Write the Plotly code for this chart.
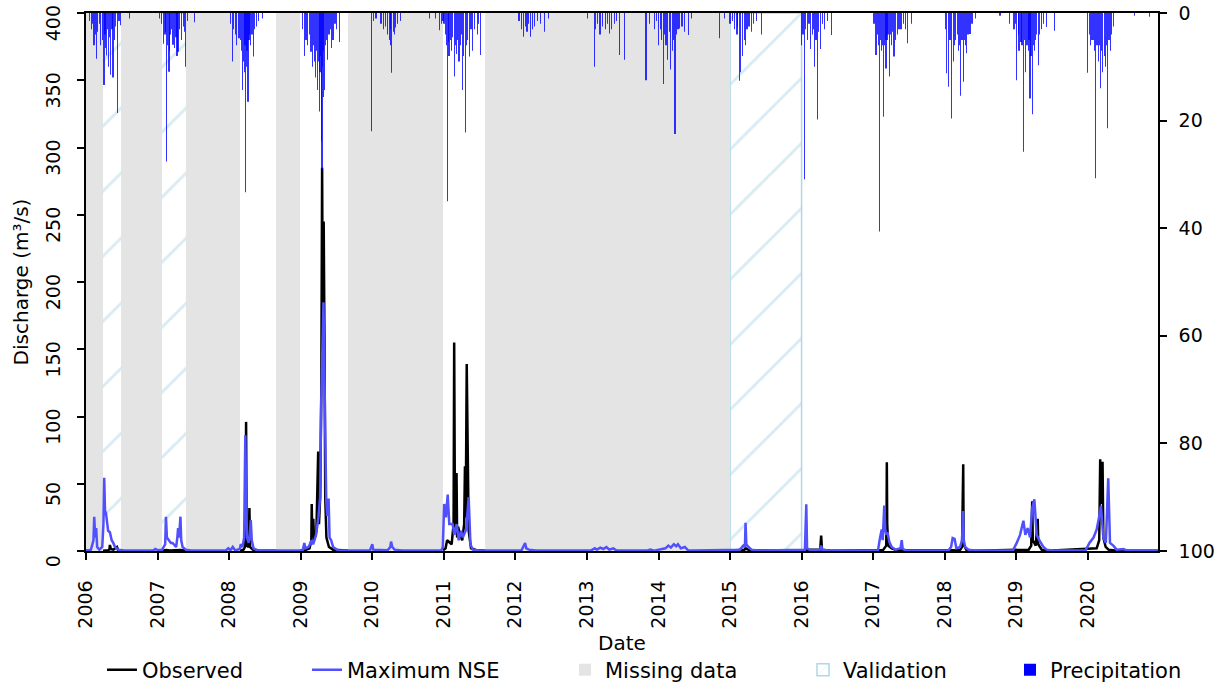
import plotly.graph_objects as go
import pandas as pd

# ---------------- data ----------------
missing_start = ["2006-01-01", "2006-06-29", "2007-05-26", "2008-08-28", "2009-08-30", "2011-07-31"]
missing_end = ["2006-03-29", "2007-01-24", "2008-02-26", "2008-12-28", "2010-12-28", "2015-01-01"]

validation_start = ["2006-01-01", "2015-01-01"]
validation_end = ["2008-01-01", "2016-01-01"]

obs_dates = [
    "2006-03-29", "2006-04-25", "2006-05-01", "2006-05-03", "2006-05-08", "2006-05-20", "2006-06-08", "2006-06-14", "2006-06-28", None,
    "2007-01-24", "2007-02-15", "2007-03-05", "2007-04-28", "2007-05-26", None,
    "2008-02-26", "2008-03-15", "2008-03-22", "2008-03-26", "2008-03-28", "2008-03-31", "2008-04-10", "2008-04-14", "2008-04-17",
    "2008-05-01", "2008-06-01", "2008-08-28", None,
    "2008-12-28", "2009-01-20", "2009-02-15", "2009-02-24", "2009-02-26", "2009-03-01", "2009-03-06", "2009-03-10", "2009-03-22",
    "2009-03-31", "2009-04-04", "2009-04-10", "2009-04-16", "2009-04-20", "2009-04-24", "2009-04-28", "2009-05-02", "2009-05-06",
    "2009-05-12", "2009-05-25", "2009-06-15", "2009-08-30", None,
    "2010-12-28", "2011-01-10", "2011-01-18", "2011-02-10", "2011-02-20", "2011-02-23", "2011-02-27", "2011-03-04", "2011-03-07",
    "2011-03-10", "2011-03-15", "2011-03-25", "2011-04-05", "2011-04-15", "2011-04-19", "2011-04-23", "2011-04-28", "2011-05-02",
    "2011-05-08", "2011-05-20", "2011-06-20", "2011-07-30", None,
    "2015-01-01", "2015-03-15", "2015-03-22", "2015-04-10", "2015-12-31", "2016-01-25", "2016-04-05", "2016-04-10", "2016-04-14",
    "2016-06-01", "2017-02-20", "2017-03-01", "2017-03-08", "2017-03-10", "2017-03-11", "2017-03-13", "2017-03-18", "2017-04-05",
    "2017-05-01", "2018-03-20", "2018-03-30", "2018-04-05", "2018-04-07", "2018-04-20", "2018-06-01", "2019-03-05", "2019-03-18",
    "2019-03-23", "2019-03-26", "2019-04-10", "2019-04-20", "2019-04-23", "2019-05-10", "2019-06-10", "2020-02-15", "2020-02-28",
    "2020-03-04", "2020-03-10", "2020-03-16", "2020-03-20", "2020-04-01", "2020-04-15", "2020-06-01", "2020-12-24",
]
obs_q = [
    0.2, 0.5, 1.5, 4.5, 1.5, 1.0, 3.0, 0.8, 0.3, None,
    0.2, 0.8, 0.4, 0.8, 0.3, None,
    0.3, 1.0, 3, 20, 96, 4, 3, 32, 3,
    1, 0.3, 0.2, None,
    0.2, 0.5, 2, 8, 35, 10, 24, 8, 15,
    74, 20, 40, 120, 285, 150, 245, 160, 40,
    10, 3, 1, 0.3, None,
    0.5, 2, 8, 5, 20, 155, 20, 15, 58,
    10, 18, 12, 8, 20, 63, 25, 139, 60,
    15, 2, 0.5, 0.3, None,
    0.3, 1, 2, 0.5, 0.2, 1, 1, 11.4, 1,
    0.2, 0.8, 3, 4, 30, 66, 20, 4, 2,
    0.5, 0.8, 3, 64.5, 5, 1, 0.2, 1, 4,
    37, 8, 4, 24, 5, 1, 0.2, 2, 8,
    68.2, 35, 66.4, 10, 3, 1, 0.2, 0.2,
]

sim_dates = [
    "2006-01-01", "2006-01-25", "2006-02-08", "2006-02-12", "2006-02-17", "2006-02-22", "2006-02-27", "2006-03-10", "2006-03-25",
    "2006-03-31", "2006-04-04", "2006-04-08", "2006-04-13", "2006-04-18", "2006-04-24", "2006-05-03", "2006-05-12", "2006-05-20",
    "2006-05-29", "2006-06-15", "2006-07-15", "2006-12-10", "2006-12-20", "2007-01-05", "2007-01-25", "2007-02-09", "2007-02-13",
    "2007-02-18", "2007-02-26", "2007-03-10", "2007-03-19", "2007-04-06", "2007-04-12", "2007-04-16", "2007-04-21", "2007-04-28",
    "2007-05-02", "2007-05-09", "2007-05-25", "2007-06-20", "2007-12-15", "2007-12-28", "2008-01-08", "2008-01-20", "2008-02-01",
    "2008-02-25", "2008-03-01", "2008-03-10", "2008-03-18", "2008-03-24", "2008-03-28", "2008-04-02", "2008-04-10", "2008-04-16",
    "2008-04-21", "2008-04-26", "2008-05-05", "2008-05-28", "2008-12-20", "2009-01-12", "2009-01-19", "2009-01-25", "2009-02-10",
    "2009-02-26", "2009-03-05", "2009-03-20", "2009-04-01", "2009-04-10", "2009-04-15", "2009-04-20", "2009-04-27", "2009-05-01",
    "2009-05-06", "2009-05-11", "2009-05-16", "2009-05-23", "2009-05-28", "2009-06-05", "2009-06-15", "2009-07-10", "2009-12-20",
    "2010-01-01", "2010-01-06", "2010-03-20", "2010-04-03", "2010-04-07", "2010-04-13", "2010-04-25", "2010-06-01", "2010-12-20",
    "2010-12-27", "2011-01-03", "2011-01-12", "2011-01-21", "2011-01-29", "2011-02-15", "2011-02-24", "2011-03-08", "2011-03-18",
    "2011-03-30", "2011-04-08", "2011-04-25", "2011-05-08", "2011-05-17", "2011-05-29", "2011-07-01", "2012-02-01", "2012-02-15",
    "2012-02-20", "2012-02-26", "2012-03-10", "2012-04-15", "2013-01-20", "2013-02-10", "2013-02-20", "2013-03-10", "2013-03-25",
    "2013-04-10", "2013-04-25", "2013-05-15", "2013-06-01", "2013-11-01", "2013-11-20", "2013-12-10", "2014-02-05", "2014-02-20",
    "2014-03-05", "2014-03-20", "2014-04-01", "2014-04-10", "2014-04-25", "2014-05-15", "2014-06-01", "2014-07-01", "2015-02-20",
    "2015-03-10", "2015-03-18", "2015-03-21", "2015-03-25", "2015-04-05", "2015-04-20", "2015-05-20", "2016-01-18", "2016-01-25",
    "2016-01-29", "2016-02-15", "2016-04-04", "2016-04-10", "2016-04-15", "2016-05-15", "2017-01-25", "2017-02-04", "2017-02-13",
    "2017-02-18", "2017-02-26", "2017-03-03", "2017-03-08", "2017-03-14", "2017-03-24", "2017-04-05", "2017-04-25", "2017-05-20",
    "2017-05-26", "2017-05-31", "2017-06-20", "2018-01-20", "2018-02-02", "2018-02-10", "2018-02-20", "2018-03-01", "2018-03-20",
    "2018-03-30", "2018-04-04", "2018-04-08", "2018-04-15", "2018-05-01", "2018-06-01", "2018-12-15", "2018-12-25", "2019-01-03",
    "2019-01-20", "2019-02-06", "2019-02-16", "2019-02-28", "2019-03-12", "2019-03-23", "2019-04-03", "2019-04-15", "2019-04-28",
    "2019-05-19", "2019-06-05", "2019-07-01", "2019-12-20", "2019-12-31", "2020-01-09", "2020-01-30", "2020-02-15", "2020-02-27",
    "2020-03-08", "2020-03-20", "2020-04-02", "2020-04-14", "2020-04-23", "2020-05-10", "2020-05-27", "2020-06-30", "2020-07-20",
    "2020-12-24",
]
sim_q = [
    0.5, 0.5, 8, 25.5, 10, 17, 3, 1, 3,
    20, 54.5, 30, 28, 21, 15, 14, 8, 6,
    3, 1, 0.3, 0.3, 1.5, 0.5, 1, 5, 25.5,
    10, 8, 6, 6, 3, 10, 17, 10, 25.5,
    8, 3, 1, 0.3, 0.3, 2, 0.5, 3, 0.5,
    1.5, 5, 3, 10, 86, 40, 10, 6, 12,
    23, 8, 2, 0.3, 0.3, 1, 6, 2, 3,
    8, 5, 12, 25, 40, 107, 150, 185, 140,
    88, 38, 26, 39, 10, 8, 3, 0.5, 0.3,
    5, 1, 0.5, 3, 7, 3, 1, 0.3, 0.5,
    3, 35, 25, 42, 20, 20, 12, 20, 8,
    15, 10, 16, 40, 5, 1, 0.3, 0.3, 4,
    6, 2, 1, 0.3, 0.3, 2, 1, 2.5, 1.5,
    3, 1, 2, 0.3, 0.3, 1, 0.3, 2, 4,
    2.5, 5, 3.5, 5, 2, 3, 0.5, 0.3, 1,
    4, 3, 21, 5, 3, 1, 0.3, 1, 34.7,
    2, 0.5, 1, 4, 1, 0.3, 0.5, 9.6, 16,
    8, 33.7, 16, 12, 14, 6.7, 3, 1, 2,
    8, 1.5, 0.3, 0.5, 3, 9.6, 9, 2, 3,
    8, 29.7, 8, 3, 1, 0.3, 0.5, 3, 6,
    12, 22.5, 12, 17, 10, 32, 38.4, 12, 8,
    3, 1, 0.3, 0.3, 3, 6, 10, 16, 25,
    33.4, 10, 6, 54, 6, 4, 1, 1.5, 0.3,
    0.3,
]

precip_dates = [
    # 2006
    "2006-01-20", "2006-01-28", "2006-02-05", "2006-02-11", "2006-02-17", "2006-02-24", "2006-03-02", "2006-03-10", "2006-03-18",
    "2006-03-25", "2006-04-03", "2006-04-08", "2006-04-12", "2006-04-16", "2006-04-20", "2006-04-26", "2006-05-01", "2006-05-08",
    "2006-05-14", "2006-05-19", "2006-05-25", "2006-06-02", "2006-06-11", "2006-06-18", "2006-06-24", "2006-08-13",
    # 2007
    "2007-01-10", "2007-01-20", "2007-02-01", "2007-02-08", "2007-02-12", "2007-02-17", "2007-02-22", "2007-03-01", "2007-03-05",
    "2007-03-10", "2007-03-15", "2007-03-21", "2007-03-28", "2007-04-05", "2007-04-10", "2007-04-16", "2007-04-24", "2007-05-03",
    "2007-05-12", "2007-05-18", "2007-05-25", "2007-06-05", "2007-07-07",
    # 2008
    "2008-01-08", "2008-01-18", "2008-01-25", "2008-02-02", "2008-02-10", "2008-02-21", "2008-02-28", "2008-03-04", "2008-03-09",
    "2008-03-13", "2008-03-18", "2008-03-22", "2008-03-26", "2008-03-30", "2008-04-02", "2008-04-07", "2008-04-12", "2008-04-16",
    "2008-04-21", "2008-04-27", "2008-05-05", "2008-05-12", "2008-05-20", "2008-05-30", "2008-06-20",
    # 2009
    "2009-01-10", "2009-01-19", "2009-01-28", "2009-02-05", "2009-02-14", "2009-02-22", "2009-03-03", "2009-03-08", "2009-03-12",
    "2009-03-19", "2009-03-24", "2009-03-28", "2009-04-01", "2009-04-05", "2009-04-09", "2009-04-12", "2009-04-15", "2009-04-19",
    "2009-04-22", "2009-04-26", "2009-04-29", "2009-05-04", "2009-05-08", "2009-05-12", "2009-05-18", "2009-05-25", "2009-06-03",
    "2009-06-08", "2009-06-15", "2009-06-25", "2009-07-01", "2009-07-16", "2009-12-30",
    # 2010
    "2010-01-08", "2010-01-20", "2010-02-15", "2010-03-01", "2010-03-10", "2010-03-20", "2010-03-28", "2010-04-03", "2010-04-06",
    "2010-04-11", "2010-04-18", "2010-04-25", "2010-05-01", "2010-05-10", "2010-05-27", "2010-10-22", "2010-11-20", "2010-12-09",
    "2010-12-20", "2010-12-28",
    # 2011
    "2011-01-02", "2011-01-10", "2011-01-14", "2011-01-18", "2011-01-23", "2011-01-28", "2011-02-03", "2011-02-10", "2011-02-16",
    "2011-02-23", "2011-03-02", "2011-03-07", "2011-03-14", "2011-03-20", "2011-03-26", "2011-04-01", "2011-04-05", "2011-04-12",
    "2011-04-20", "2011-04-26", "2011-05-02", "2011-05-14", "2011-05-20", "2011-05-28", "2011-06-08", "2011-06-20", "2011-06-28",
    "2011-07-06",
    # 2012
    "2012-01-20", "2012-02-03", "2012-02-10", "2012-02-20", "2012-03-01", "2012-03-10", "2012-03-19", "2012-03-28", "2012-04-10",
    "2012-04-25", "2012-05-10", "2012-05-27", "2012-06-20",
    # 2013
    "2013-01-05", "2013-02-07", "2013-02-15", "2013-02-25", "2013-03-08", "2013-03-20", "2013-04-05", "2013-04-15", "2013-04-25",
    "2013-05-05", "2013-05-20", "2013-06-01", "2013-06-15", "2013-07-10", "2013-10-29", "2013-11-15", "2013-12-10", "2013-12-20",
    # 2014
    "2014-01-01", "2014-01-10", "2014-01-18", "2014-01-25", "2014-02-01", "2014-02-08", "2014-02-16", "2014-02-24", "2014-03-04",
    "2014-03-12", "2014-03-18", "2014-03-26", "2014-04-02", "2014-04-10", "2014-04-20", "2014-05-01", "2014-05-15", "2014-06-02",
    "2014-06-20", "2014-11-10", "2014-12-05",
    # 2015
    "2015-01-01", "2015-01-15", "2015-01-25", "2015-02-05", "2015-02-10", "2015-02-17", "2015-02-23", "2015-03-06", "2015-03-14",
    "2015-03-21", "2015-03-28", "2015-04-08", "2015-04-20", "2015-05-02", "2015-05-18", "2015-06-11",
    # 2016
    "2016-01-01", "2016-01-08", "2016-01-15", "2016-01-22", "2016-02-01", "2016-02-08", "2016-02-16", "2016-02-25", "2016-03-02",
    "2016-03-09", "2016-03-15", "2016-03-21", "2016-03-28", "2016-04-07", "2016-04-15", "2016-04-28", "2016-05-12", "2016-05-31",
    # 2017
    "2017-01-05", "2017-01-15", "2017-01-22", "2017-01-28", "2017-02-03", "2017-02-08", "2017-02-12", "2017-02-17", "2017-02-23",
    "2017-02-28", "2017-03-03", "2017-03-07", "2017-03-12", "2017-03-17", "2017-03-24", "2017-03-30", "2017-04-05", "2017-04-10",
    "2017-04-17", "2017-04-25", "2017-05-03", "2017-05-12", "2017-05-22", "2017-06-05", "2017-06-15", "2017-06-24", "2017-07-16",
    # 2018
    "2018-01-03", "2018-01-11", "2018-01-19", "2018-01-27", "2018-02-05", "2018-02-13", "2018-02-20", "2018-02-26", "2018-03-05",
    "2018-03-10", "2018-03-15", "2018-03-23", "2018-03-30", "2018-04-05", "2018-04-10", "2018-04-15", "2018-04-23", "2018-04-29",
    "2018-05-10", "2018-05-20", "2018-06-05", "2018-10-10", "2018-11-27", "2018-12-20", "2018-12-28",
    # 2019
    "2019-01-03", "2019-01-10", "2019-01-15", "2019-01-25", "2019-01-30", "2019-02-06", "2019-02-10", "2019-02-16", "2019-02-20",
    "2019-02-25", "2019-03-03", "2019-03-07", "2019-03-12", "2019-03-17", "2019-03-23", "2019-03-28", "2019-04-03", "2019-04-10",
    "2019-04-15", "2019-04-23", "2019-04-30", "2019-05-08", "2019-05-20", "2019-06-05", "2019-07-14",
    # 2020
    "2019-12-31", "2020-01-08", "2020-01-15", "2020-01-22", "2020-01-28", "2020-02-03", "2020-02-10", "2020-02-17", "2020-02-24",
    "2020-03-01", "2020-03-06", "2020-03-10", "2020-03-17", "2020-03-24", "2020-03-30", "2020-04-04", "2020-04-11", "2020-04-18",
    "2020-04-25", "2020-05-02", "2020-05-10", "2020-08-28", "2020-11-09",
]
precip_mm = [
    # 2006
    1.5, 3, 2, 6, 4, 8.5, 3.5, 2, 6,
    5, 13.4, 4, 6.5, 7.9, 3, 10, 4.5, 11.5,
    3, 12, 5, 2.5, 18.6, 1.5, 2.3, 1,
    # 2007
    1, 2, 5.7, 4, 3.5, 27.6, 6, 10.9, 7,
    4, 3, 5.9, 6.5, 4.5, 8, 7.2, 3, 5,
    2.5, 3.5, 10, 1.5, 1.7,
    # 2008
    2, 9, 3, 4, 6, 4.7, 5, 7, 14.3,
    9, 11, 6, 33.3, 10, 7, 16.5, 5, 4,
    6, 4, 8.1, 3, 2.5, 1.5, 1,
    # 2009
    3, 8, 5, 6, 4, 7.2, 10, 6, 9,
    12, 7, 14.3, 9, 18.3, 11, 8, 23.9, 29,
    10, 15.6, 7, 14.3, 6, 5, 8.7, 4, 3,
    6.5, 5, 2, 3, 5.4, 22,
    # 2010
    1.5, 1, 2, 3, 2.5, 4, 5, 3, 6,
    11.1, 3.5, 4, 2.7, 2, 1.5, 1, 1, 3.2,
    2, 1.5,
    # 2011
    2, 4, 6, 35, 5.4, 8, 5, 7, 4.5,
    11.8, 6, 7.6, 5, 9, 6, 4, 14.3, 8,
    22.2, 6, 5, 8.1, 3, 7, 3, 4, 2,
    7.8,
    # 2012
    1.5, 3, 4.4, 2.5, 3.5, 2, 4.4, 3, 2.5,
    1.5, 2, 3.5, 1,
    # 2013
    1, 10, 3, 2, 4, 2.5, 3, 2, 3.8,
    3, 2, 1.5, 7.8, 8.7, 12.5, 2, 3, 1.5,
    # 2014
    6, 3, 5, 13.2, 4, 6, 8.7, 3.5, 10.5,
    7, 5, 22.5, 4, 3, 2.9, 2.5, 3.5, 4.1,
    1, 4.7, 1,
    # 2015
    2, 1.5, 3, 4, 2.5, 12.6, 11, 8, 5,
    6, 3, 2.5, 3.5, 2, 1.5, 4,
    # 2016
    6, 4, 30.9, 3, 5, 2, 6.7, 4, 3,
    10, 5, 19.8, 3.5, 6.7, 2, 3, 1.5, 4.1,
    # 2017
    2, 7.8, 4, 6, 40.6, 5, 7, 6, 19.3,
    6, 5, 10.3, 5, 4, 11.8, 4, 6, 3.5,
    8.1, 5, 4, 3, 3, 2, 3, 5.6, 2,
    # 2018
    3, 11.2, 13.7, 5, 19.6, 9, 6, 5, 4,
    7, 6, 15.4, 5, 12.8, 5, 6, 7.5, 4,
    3.9, 2, 1, 0.5, 2, 3, 2,
    # 2019
    12.5, 4, 7, 5.4, 6, 25.8, 5, 11, 6,
    6, 7, 5, 15.9, 8, 18.8, 6, 7, 5,
    4, 9.7, 4, 3, 2, 2.6, 3.3,
    # 2020
    11.1, 4, 6, 5, 5, 7, 30.7, 6, 9,
    6, 14, 7, 11, 8, 10, 6, 21.4, 5,
    7, 4, 2.5, 0.5, 0.7,
]

x_range = ["2006-01-01", "2020-12-24"]
year_ticks = [f"{y}-01-01" for y in range(2006, 2021)]
year_labels = [str(y) for y in range(2006, 2021)]
q_range = [0, 400]
p_range = [100, 0]

FONT = "DejaVu Sans"


def span_bars(starts, ends):
    s = pd.to_datetime(pd.Series(starts))
    e = pd.to_datetime(pd.Series(ends))
    mid = s + (e - s) / 2
    width_ms = (e - s).dt.total_seconds() * 1000
    return list(mid), list(width_ms)


fig = go.Figure()

v_mid, v_w = span_bars(validation_start, validation_end)
fig.add_trace(go.Bar(
    x=v_mid, y=[q_range[1]] * len(v_mid), width=v_w, base=q_range[0], name="Validation",
    marker=dict(color="lightblue", line=dict(color="lightblue", width=1.5),
                pattern=dict(shape="/", fgcolor="lightblue", bgcolor="rgba(0,0,0,0)",
                             size=46, solidity=0.06)),
    hoverinfo="skip", legend="legend4",
))

m_mid, m_w = span_bars(missing_start, missing_end)
fig.add_trace(go.Bar(
    x=m_mid, y=[q_range[1]] * len(m_mid), width=m_w, base=q_range[0], name="Missing data",
    marker=dict(color="#e4e4e4", line=dict(width=0)),
    hoverinfo="skip", legend="legend3",
))

fig.add_trace(go.Scatter(
    x=obs_dates, y=obs_q, mode="lines", name="Observed",
    line=dict(color="black", width=2.5), connectgaps=False, legend="legend",
))
fig.add_trace(go.Scatter(
    x=sim_dates, y=sim_q, mode="lines", name="Maximum NSE",
    line=dict(color="#5050ff", width=2.5), legend="legend2",
))
fig.add_trace(go.Bar(
    x=precip_dates, y=precip_mm, name="Precipitation", yaxis="y2",
    marker=dict(color="blue", opacity=0.8, line=dict(width=0)), width=86400000,
    legend="legend5",
))

axis_common = dict(
    showline=True, linecolor="black", linewidth=1.5,
    ticks="outside", ticklen=7, tickwidth=1.5, tickcolor="black",
    showgrid=False, zeroline=False, automargin=False, ticklabeloverflow="allow",
    tickfont=dict(family=FONT, size=19, color="black"),
)

FIG_W, FIG_H = 1217, 683
fig.update_layout(
    width=FIG_W, height=FIG_H,
    margin=dict(l=86, r=59, t=13, b=132, autoexpand=False),
    plot_bgcolor="white", paper_bgcolor="white",
    font=dict(family=FONT, size=20, color="black"),
    barmode="overlay",
    xaxis=dict(
        type="date", range=x_range, tickvals=year_ticks, ticktext=year_labels,
        tickangle=-90, mirror=True, ticklabelstandoff=13,
        title=dict(text="Date", font=dict(family=FONT, size=20), standoff=8),
        **axis_common,
    ),
    yaxis=dict(
        range=q_range, dtick=50, tickangle=-90, mirror=True,
        ticklabelshift=13, ticklabelstandoff=10,
        title=dict(text="Discharge (m³/s)", font=dict(family=FONT, size=20), standoff=8),
        **axis_common,
    ),
    yaxis2=dict(
        overlaying="y", side="right", range=p_range, dtick=20, anchor="x",
        ticklabelstandoff=8,
        **axis_common,
    ),
    showlegend=True,
)

plot_h = FIG_H - 13 - 132
leg_common = dict(orientation="h", y=-(670 - (FIG_H - 132)) / plot_h, yanchor="middle", xanchor="left",
                  bgcolor="rgba(0,0,0,0)", font=dict(family=FONT, size=21, color="black"))
text_left = [142, 347, 605, 843, 1050]
names = ["legend", "legend2", "legend3", "legend4", "legend5"]
plot_left, plot_w = 86, 1072
for nm, tl in zip(names, text_left):
    fig.update_layout({nm: dict(x=(tl - 40 - plot_left) / plot_w, **leg_common)})

# remove the browser's default 8 px body margin so the figure fills the window exactly
fig.write_html(
    "out.html",
    config={"displayModeBar": False},
    post_script="document.body.style.margin='0';document.body.style.overflow='hidden';",
)
